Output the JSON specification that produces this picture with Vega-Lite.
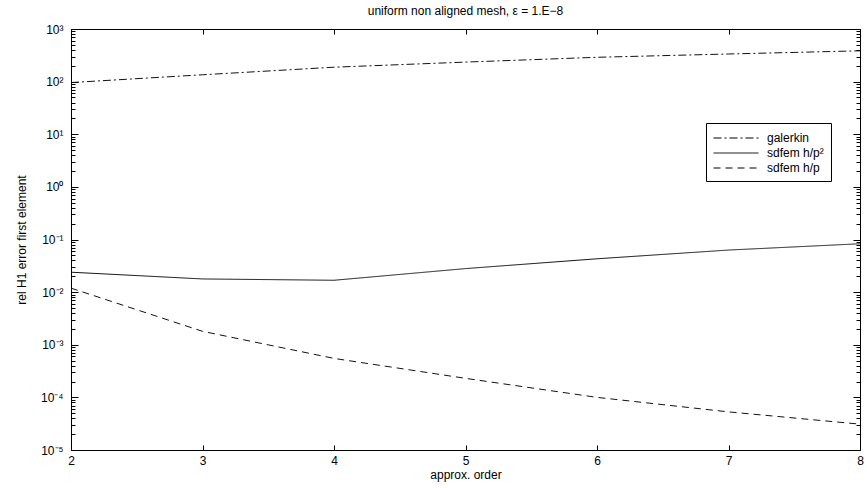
{
  "$schema": "https://vega.github.io/schema/vega-lite/v6.json",
  "width": 789,
  "height": 421,
  "autosize": {"type": "none"},
  "padding": {"left": 71, "top": 29, "right": 7, "bottom": 38},
  "background": "white",
  "title": {"text": "uniform non aligned mesh, ε = 1.E−8", "font": "Liberation Sans", "fontSize": 12, "fontWeight": "normal", "color": "black", "anchor": "middle", "offset": 5},
  "config": {"view": {"stroke": null}, "font": "Liberation Sans"},
  "data": {"values": [
    {"order": 2, "err": 96, "method": "galerkin"},
    {"order": 3, "err": 135, "method": "galerkin"},
    {"order": 4, "err": 188, "method": "galerkin"},
    {"order": 5, "err": 235, "method": "galerkin"},
    {"order": 6, "err": 290, "method": "galerkin"},
    {"order": 7, "err": 335, "method": "galerkin"},
    {"order": 8, "err": 385, "method": "galerkin"},
    {"order": 2, "err": 0.0239, "method": "sdfem h/p²"},
    {"order": 3, "err": 0.0178, "method": "sdfem h/p²"},
    {"order": 4, "err": 0.0168, "method": "sdfem h/p²"},
    {"order": 5, "err": 0.028, "method": "sdfem h/p²"},
    {"order": 6, "err": 0.043, "method": "sdfem h/p²"},
    {"order": 7, "err": 0.063, "method": "sdfem h/p²"},
    {"order": 8, "err": 0.083, "method": "sdfem h/p²"},
    {"order": 2, "err": 0.0119, "method": "sdfem h/p"},
    {"order": 3, "err": 0.0018, "method": "sdfem h/p"},
    {"order": 4, "err": 0.00055, "method": "sdfem h/p"},
    {"order": 5, "err": 0.00023, "method": "sdfem h/p"},
    {"order": 6, "err": 0.0001, "method": "sdfem h/p"},
    {"order": 7, "err": 0.000053, "method": "sdfem h/p"},
    {"order": 8, "err": 0.000031, "method": "sdfem h/p"}
  ]},
  "layer": [
    {
      "mark": {"type": "line", "color": "#111111", "strokeWidth": 1},
      "encoding": {
        "x": {"field": "order", "type": "quantitative",
          "scale": {"domain": [2, 8], "nice": false, "zero": false},
          "axis": {"orient": "bottom", "values": [2, 3, 4, 5, 6, 7, 8], "title": "approx. order", "grid": false,
            "domainColor": "black", "domainWidth": 1, "tickColor": "black", "tickSize": -5, "tickWidth": 1,
            "labelFont": "Liberation Sans", "labelFontSize": 12, "labelColor": "black", "labelPadding": 10, "labelFlush": false,
            "titleFont": "Liberation Sans", "titleFontSize": 12, "titleFontWeight": "normal", "titleColor": "black", "titlePadding": 3}},
        "y": {"field": "err", "type": "quantitative",
          "scale": {"type": "log", "domain": [0.00001, 1000], "nice": false},
          "axis": {"orient": "left", "grid": false,
            "values": [0.00001,0.00002,0.00003,0.00004,0.00005,0.00006,0.00007,0.00008,0.00009,
                       0.0001,0.0002,0.0003,0.0004,0.0005,0.0006,0.0007,0.0008,0.0009,
                       0.001,0.002,0.003,0.004,0.005,0.006,0.007,0.008,0.009,
                       0.01,0.02,0.03,0.04,0.05,0.06,0.07,0.08,0.09,
                       0.1,0.2,0.3,0.4,0.5,0.6,0.7,0.8,0.9,
                       1,2,3,4,5,6,7,8,9,
                       10,20,30,40,50,60,70,80,90,
                       100,200,300,400,500,600,700,800,900,1000],
            "labelExpr": "abs(log(datum.value)/LN10 - round(log(datum.value)/LN10)) < 0.000001 ? ['10⁻⁵','10⁻⁴','10⁻³','10⁻²','10⁻¹','10⁰','10¹','10²','10³'][round(log(datum.value)/LN10)+5] : ''",
            "tickSize": {"condition": {"test": "abs(log(datum.value)/LN10 - round(log(datum.value)/LN10)) < 0.000001", "value": -7}, "value": -4},
            "title": "rel H1 error first element",
            "domainColor": "black", "domainWidth": 1, "tickColor": "black", "tickWidth": 1,
            "labelFont": "Liberation Sans", "labelFontSize": 12, "labelColor": "black", "labelPadding": 15, "labelFlush": false, "labelOverlap": false,
            "titleFont": "Liberation Sans", "titleFontSize": 12, "titleFontWeight": "normal", "titleColor": "black", "titlePadding": 12}},
        "strokeDash": {"field": "method", "type": "nominal",
          "scale": {"domain": ["galerkin", "sdfem h/p²", "sdfem h/p"], "range": [[8, 3, 2, 3], [1, 0], [7, 5]]},
          "legend": {"orient": "none", "legendX": 635, "legendY": 94, "title": null,
            "strokeColor": "black", "fillColor": "white", "padding": 7,
            "symbolType": "M-1,0H5", "symbolSize": 225, "symbolStrokeWidth": 1, "symbolStrokeColor": "black",
            "labelFont": "Liberation Sans", "labelFontSize": 12, "labelColor": "black", "labelOffset": 38, "rowPadding": 1}}
      }
    },
    {
      "mark": {"type": "line", "opacity": 0},
      "encoding": {
        "x": {"field": "order", "type": "quantitative",
          "axis": {"orient": "top", "values": [2, 3, 4, 5, 6, 7, 8], "labels": false, "title": null, "grid": false,
            "domainColor": "black", "domainWidth": 1, "tickColor": "black", "tickSize": -5, "tickWidth": 1}},
        "y": {"field": "err", "type": "quantitative",
          "axis": {"orient": "right", "labels": false, "title": null, "grid": false,
            "values": [0.00001,0.00002,0.00003,0.00004,0.00005,0.00006,0.00007,0.00008,0.00009,
                       0.0001,0.0002,0.0003,0.0004,0.0005,0.0006,0.0007,0.0008,0.0009,
                       0.001,0.002,0.003,0.004,0.005,0.006,0.007,0.008,0.009,
                       0.01,0.02,0.03,0.04,0.05,0.06,0.07,0.08,0.09,
                       0.1,0.2,0.3,0.4,0.5,0.6,0.7,0.8,0.9,
                       1,2,3,4,5,6,7,8,9,
                       10,20,30,40,50,60,70,80,90,
                       100,200,300,400,500,600,700,800,900,1000],
            "tickSize": {"condition": {"test": "abs(log(datum.value)/LN10 - round(log(datum.value)/LN10)) < 0.000001", "value": -7}, "value": -4},
            "domainColor": "black", "domainWidth": 1, "tickColor": "black", "tickWidth": 1}},
        "detail": {"field": "method", "type": "nominal"}
      }
    }
  ],
  "resolve": {"axis": {"x": "independent", "y": "independent"}}
}
